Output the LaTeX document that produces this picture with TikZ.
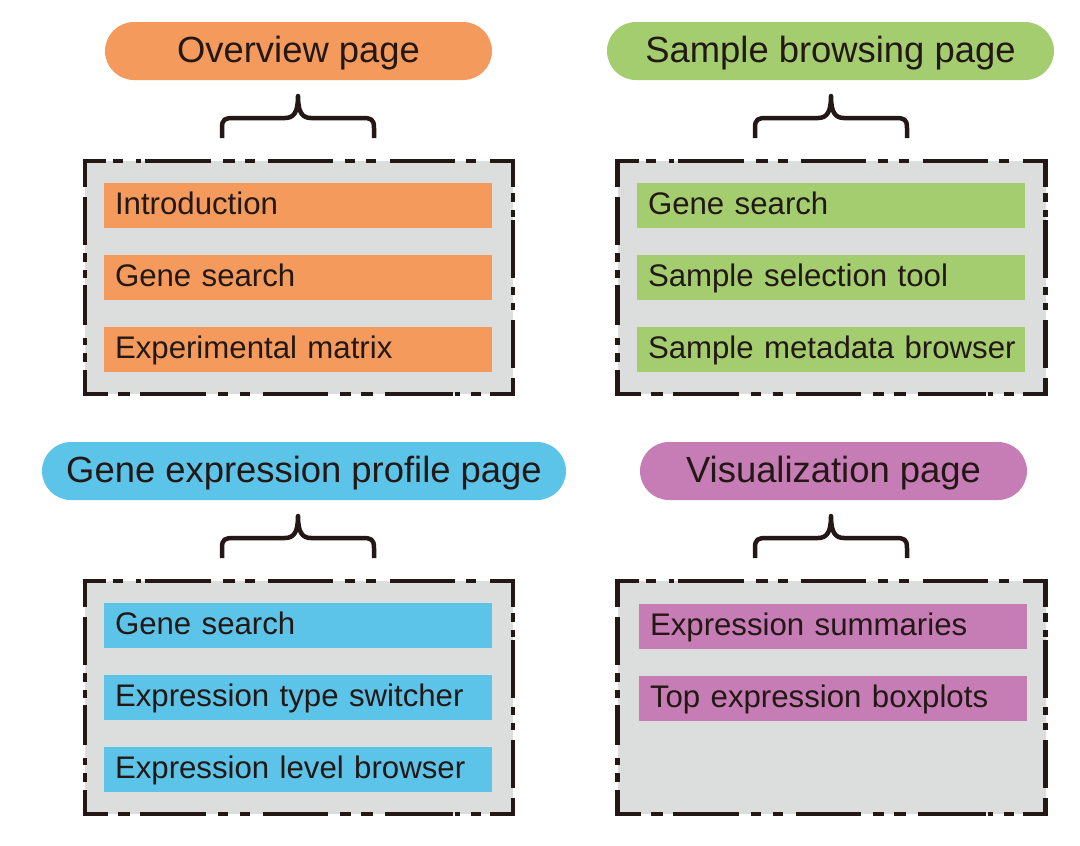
\documentclass[tikz,border=0pt]{standalone}
\usepackage{fontspec}
\setmainfont{Liberation Sans}

\definecolor{inkcol}{RGB}{35,24,21}
\definecolor{boxgray}{RGB}{220,221,221}
\definecolor{ovcol}{RGB}{243,154,92}
\definecolor{sbcol}{RGB}{163,205,111}
\definecolor{gecol}{RGB}{91,196,232}
\definecolor{vicol}{RGB}{198,124,180}

\begin{document}
\begin{tikzpicture}[x=1pt, y=-1pt,
  header/.style={rounded corners=29pt, minimum height=58pt, inner sep=0pt, text height=26pt, text depth=3pt, font=\fontsize{36.4}{40}\selectfont, text=inkcol},
  pagebox/.style={fill=boxgray, minimum width=428pt, minimum height=233pt, inner sep=0pt},
  frame/.style={draw=inkcol, line width=4.5pt},
  item/.style={inner ysep=0pt, inner xsep=11pt, minimum height=45pt, text width=366pt, align=left, text height=23pt, text depth=5pt, font=\fontsize{31.2}{34}\selectfont, text=inkcol},
  brace/.style={draw=inkcol, line width=4.5pt, line join=round}]

\useasboundingbox (0,0) rectangle (1080,846);

% page headers
\node[header, fill=ovcol, minimum width=387pt] (ovhead) at (298.5,51) {Overview page};
\node[header, fill=sbcol, minimum width=447pt] (sbhead) at (830.5,51) {Sample browsing page};
\node[header, fill=gecol, minimum width=524pt] (gehead) at (304,471) {Gene expression profile page};
\node[header, fill=vicol, minimum width=387pt] (vihead) at (833.5,471) {Visualization page};

% braces
\foreach \bx/\by in {298/0, 831/0, 298/420, 831/420}{
\begin{scope}[shift={(\bx,\by)}]
\draw[brace] (-76,138) -- (-76,128) .. controls (-76,119) and (-73,118) .. (-64,118) -- (-13,118)
  .. controls (-4,118) and (0,112) .. (0,96) .. controls (0,112) and (4,118) .. (13,118)
  -- (64,118) .. controls (73,118) and (76,119) .. (76,128) -- (76,138);
\end{scope}
}

% grey boxes
\node[pagebox] (ovbox) at (299,277.5) {};
\node[pagebox] (sbbox) at (831.5,277.5) {};
\node[pagebox] (gebox) at (299,697.5) {};
\node[pagebox] (vibox) at (831.5,697.5) {};

% dash-dot-dot frames, dashes fitted to the corners
\foreach \lx/\ty in {85/161, 617.5/161, 85/581, 617.5/581}{
  \foreach \p/\q in {-2.25/21, 28/38, 51/56, 60/126, 138/150, 160/170, 183/248, 260/270, 281/291, 305/370, 381/391, 405/430.25}
    \draw[frame] (\lx+\p,\ty) -- (\lx+\q,\ty);
  \foreach \p/\q in {-2.25/23, 33/45, 55/121, 133/143, 155/165, 178/243, 255/266, 276/288, 300/368, 370/375, 386/396, 405/430.25}
    \draw[frame] (\lx+\p,\ty+233) -- (\lx+\q,\ty+233);
  \foreach \p/\q in {-2.25/26, 36/84, 92/101, 109/117, 124/164, 177/184, 192/201, 209/235.25}
    \draw[frame] (\lx,\ty+\p) -- (\lx,\ty+\q);
  \foreach \p/\q in {-2.25/26, 32/41, 49/56, 59/117, 126/134, 142/149, 159/207, 217/235.25}
    \draw[frame] (\lx+428,\ty+\p) -- (\lx+428,\ty+\q);
}

% overview page
\node[item, fill=ovcol] (ovintro) at (298,205.5) {Introduction};
\node[item, fill=ovcol] (ovgene) at (298,277.5) {Gene search};
\node[item, fill=ovcol] (ovmatrix) at (298,349.5) {Experimental matrix};

% sample browsing page
\node[item, fill=sbcol] (sbgene) at (831,205.5) {Gene search};
\node[item, fill=sbcol] (sbtool) at (831,277.5) {Sample selection tool};
\node[item, fill=sbcol] (sbmeta) at (831,349.5) {\mbox{Sample metadata browser}};

% gene expression profile page
\node[item, fill=gecol] (gegene) at (298,625.5) {Gene search};
\node[item, fill=gecol] (getype) at (298,697.5) {Expression type switcher};
\node[item, fill=gecol] (gelevel) at (298,769.5) {Expression level browser};

% visualization page
\node[item, fill=vicol] (visumm) at (833,626.5) {Expression summaries};
\node[item, fill=vicol] (vibox2) at (833,698.5) {Top expression boxplots};
\end{tikzpicture}
\end{document}
